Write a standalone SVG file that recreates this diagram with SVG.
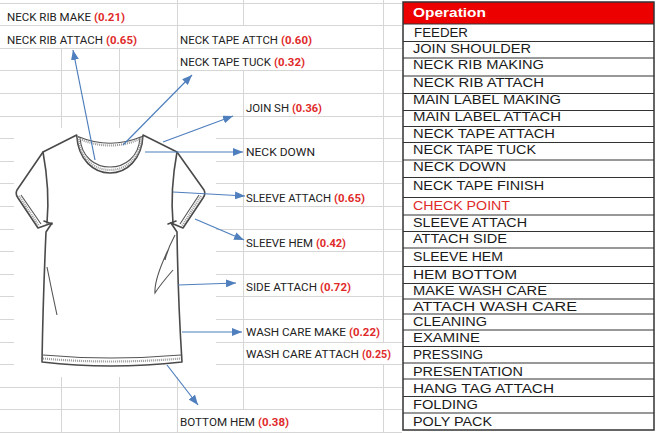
<svg xmlns="http://www.w3.org/2000/svg" width="658" height="433" viewBox="0 0 658 433">
<style>
.g{stroke:#d6d6d6;stroke-width:1;fill:none}
.lbl{font-family:Roboto,"Liberation Sans",Arial,sans-serif;font-size:11px;fill:#222}
.num{font-family:Roboto,"Liberation Sans",Arial,sans-serif;font-size:11px;fill:#e02a2a;font-weight:bold}
.op{font-family:"Liberation Sans",Arial,sans-serif;font-size:12px;fill:#1a1a1a}
.row{stroke:#333;stroke-width:1.2}
.arr{stroke:#4f7fbd;stroke-width:1.2;fill:none;marker-end:url(#ah)}
.sh{fill:none;stroke:#4a4a4a;stroke-width:1.6;stroke-linejoin:round;stroke-linecap:round}
.thin{fill:none;stroke:#555;stroke-width:1.1}
.st{fill:none;stroke:#999;stroke-width:2.2;stroke-dasharray:1 1}
</style>
<defs>
<marker id="ah" viewBox="0 0 10 8" refX="10" refY="4" markerWidth="10" markerHeight="8" markerUnits="userSpaceOnUse" orient="auto">
<path d="M0,0 L10,4 L0,8 Z" fill="#4f7fbd"/>
</marker>
</defs>
<rect width="658" height="433" fill="#fff"/>
<g id="grid">
<path class="g" d="M0,3.5H402M0,25.5H402M0,48.5H402M0,70.5H402M0,93.5H402M0,116.5H402
M0,138.5H14M216,138.5H402M0,161.5H14M216,161.5H402M0,183.5H14M216,183.5H402M0,206.5H14M216,206.5H402
M0,229.5H14M216,229.5H402M0,251.5H14M216,251.5H402M0,274.5H14M216,274.5H402M0,296.5H14M216,296.5H402
M0,319.5H14M216,319.5H402M0,342.5H14M216,342.5H402M0,364.5H14M216,364.5H402
M0,387.5H402M0,409.5H402M0,432.5H402
M61.5,48V128M61.5,377V433M119.5,48V128M119.5,377V433M177.5,0V128M177.5,377V433
M243.5,0V25.6M243.5,70.8V409.8M383.5,0V342M383.5,364.6V433"/>
</g>
<g id="tshirt">
<path d="M76.7,135 L43,152 L17,190 Q15,194 18,198 L38,228 L52,223 L46,232 Q43,300 42,362 Q110,370 182,362 Q178,300 177,232 L171,223 L183,228 L203,198 Q206,194 204,190 L177,152 L143,135 C142,160 126,173 110,173 C94,173 78,160 76.7,135 Z" fill="#fff" class="sh"/>
<path class="thin" d="M80,137 C81,157 95,167 110,167 C125,167 139,157 140,137"/>
<path class="st" d="M78.5,137 C79.5,159 95,170 110,170 C125,170 140.5,159 141.5,137"/>
<path class="thin" d="M78,136.5 Q110,150 142,136.5"/>
<path class="st" d="M80,139 Q110,152 140,139"/>
<path class="sh" d="M43,152 Q50,190 47,223 M177,152 Q170,190 173,223"/>
<path class="thin" d="M21,195 L41,224 M199,195 L180,224"/>
<path class="st" d="M19,196 L39,226 M201,196 L182,226"/>
<path class="sh" d="M44,221 L52,224 M176,221 L168,224"/>
<path class="thin" d="M43,355 Q110,361 181,355"/>
<path class="st" d="M43,358.5 Q110,364.5 181,358.5"/>
<path class="thin" d="M47,267 Q52,292 57,315 M168,250 Q154,280 155,293 Q160,285 173,270 M175,235 Q168,248 165,260"/>
</g>
<g id="connectors">
<line class="arr" x1="95" y1="160" x2="73" y2="50"/>
<line class="arr" x1="123" y1="145" x2="192" y2="75"/>
<line class="arr" x1="163" y1="142" x2="233" y2="116"/>
<line class="arr" x1="145" y1="152" x2="243" y2="152"/>
<line class="arr" x1="173" y1="192" x2="245" y2="196"/>
<line class="arr" x1="195" y1="219" x2="244" y2="240"/>
<line class="arr" x1="178" y1="285" x2="236" y2="283"/>
<line class="arr" x1="182" y1="332" x2="242" y2="332"/>
<line class="arr" x1="167" y1="365" x2="198" y2="405"/>
</g>
<g id="labels">
<text class="lbl" x="7" y="20.5" textLength="84" lengthAdjust="spacingAndGlyphs">NECK RIB MAKE</text>
<text class="num" x="94" y="20.5" textLength="31" lengthAdjust="spacingAndGlyphs">(0.21)</text>
<text class="lbl" x="7" y="43.5" textLength="96" lengthAdjust="spacingAndGlyphs">NECK RIB ATTACH</text>
<text class="num" x="106" y="43.5" textLength="31" lengthAdjust="spacingAndGlyphs">(0.65)</text>
<text class="lbl" x="180" y="43.5" textLength="98" lengthAdjust="spacingAndGlyphs">NECK TAPE ATTCH</text>
<text class="num" x="281" y="43.5" textLength="31" lengthAdjust="spacingAndGlyphs">(0.60)</text>
<text class="lbl" x="180" y="65.5" textLength="91" lengthAdjust="spacingAndGlyphs">NECK TAPE TUCK</text>
<text class="num" x="274" y="65.5" textLength="31" lengthAdjust="spacingAndGlyphs">(0.32)</text>
<text class="lbl" x="246" y="111.5" textLength="43" lengthAdjust="spacingAndGlyphs">JOIN SH</text>
<text class="num" x="292" y="111.5" textLength="30" lengthAdjust="spacingAndGlyphs">(0.36)</text>
<text class="lbl" x="246" y="155.5" textLength="69" lengthAdjust="spacingAndGlyphs">NECK DOWN</text>
<text class="lbl" x="246" y="201.5" textLength="85" lengthAdjust="spacingAndGlyphs">SLEEVE ATTACH</text>
<text class="num" x="334" y="201.5" textLength="31" lengthAdjust="spacingAndGlyphs">(0.65)</text>
<text class="lbl" x="246" y="246.5" textLength="67" lengthAdjust="spacingAndGlyphs">SLEEVE HEM</text>
<text class="num" x="316" y="246.5" textLength="30" lengthAdjust="spacingAndGlyphs">(0.42)</text>
<text class="lbl" x="246" y="291" textLength="71" lengthAdjust="spacingAndGlyphs">SIDE ATTACH</text>
<text class="num" x="320" y="291" textLength="31" lengthAdjust="spacingAndGlyphs">(0.72)</text>
<text class="lbl" x="246" y="336" textLength="100" lengthAdjust="spacingAndGlyphs">WASH CARE MAKE</text>
<text class="num" x="349" y="336" textLength="31" lengthAdjust="spacingAndGlyphs">(0.22)</text>
<text class="lbl" x="246" y="357.5" textLength="113" lengthAdjust="spacingAndGlyphs">WASH CARE ATTACH</text>
<text class="num" x="362" y="357.5" textLength="29" lengthAdjust="spacingAndGlyphs">(0.25)</text>
<text class="lbl" x="180" y="426" textLength="75" lengthAdjust="spacingAndGlyphs">BOTTOM HEM</text>
<text class="num" x="258" y="426" textLength="31" lengthAdjust="spacingAndGlyphs">(0.38)</text>
</g>
<g id="table">
<rect x="403" y="2" width="251" height="22" fill="#ec0000"/>
<rect x="403" y="2" width="251" height="428" fill="none" stroke="#333" stroke-width="1.5"/>
<path class="row" d="M403,24H654M403,41.5H654M403,58H654M403,76H654M403,93.5H654M403,110.5H654M403,126.5H654M403,142.5H654M403,160H654M403,177.5H654M403,197.5H654M403,215H654M403,231.5H654M403,248H654M403,266.5H654M403,283.5H654M403,299H654M403,314H654M403,330H654M403,346.5H654M403,363H654M403,379H654M403,396.5H654M403,413H654"/>
<text class="op" x="413" y="17" style="fill:#fff;font-weight:bold" textLength="73" lengthAdjust="spacingAndGlyphs">Operation</text>
<text class="op" x="414" y="37.3" textLength="54" lengthAdjust="spacingAndGlyphs">FEEDER</text>
<text class="op" x="413" y="53.3" textLength="118" lengthAdjust="spacingAndGlyphs">JOIN SHOULDER</text>
<text class="op" x="413" y="69.3" textLength="131" lengthAdjust="spacingAndGlyphs">NECK RIB MAKING</text>
<text class="op" x="413" y="87.3" textLength="131" lengthAdjust="spacingAndGlyphs">NECK RIB ATTACH</text>
<text class="op" x="413" y="104.3" textLength="148" lengthAdjust="spacingAndGlyphs">MAIN LABEL MAKING</text>
<text class="op" x="413" y="121.3" textLength="148" lengthAdjust="spacingAndGlyphs">MAIN LABEL ATTACH</text>
<text class="op" x="413" y="138.3" textLength="142" lengthAdjust="spacingAndGlyphs">NECK TAPE ATTACH</text>
<text class="op" x="413" y="154.3" textLength="123" lengthAdjust="spacingAndGlyphs">NECK TAPE TUCK</text>
<text class="op" x="413" y="171.3" textLength="93" lengthAdjust="spacingAndGlyphs">NECK DOWN</text>
<text class="op" x="413" y="190.3" textLength="131" lengthAdjust="spacingAndGlyphs">NECK TAPE FINISH</text>
<text class="op" x="413" y="210.3" style="fill:#e02a2a" textLength="97" lengthAdjust="spacingAndGlyphs">CHECK POINT</text>
<text class="op" x="413" y="227.3" textLength="114" lengthAdjust="spacingAndGlyphs">SLEEVE ATTACH</text>
<text class="op" x="413" y="243.3" textLength="94" lengthAdjust="spacingAndGlyphs">ATTACH SIDE</text>
<text class="op" x="413" y="261.3" textLength="90" lengthAdjust="spacingAndGlyphs">SLEEVE HEM</text>
<text class="op" x="413" y="279.3" textLength="104" lengthAdjust="spacingAndGlyphs">HEM BOTTOM</text>
<text class="op" x="413" y="295.3" textLength="134" lengthAdjust="spacingAndGlyphs">MAKE WASH CARE</text>
<text class="op" x="413" y="311.3" textLength="164" lengthAdjust="spacingAndGlyphs">ATTACH WASH CARE</text>
<text class="op" x="413" y="326.3" textLength="74" lengthAdjust="spacingAndGlyphs">CLEANING</text>
<text class="op" x="413" y="342.3" textLength="67" lengthAdjust="spacingAndGlyphs">EXAMINE</text>
<text class="op" x="413" y="359.3" textLength="70" lengthAdjust="spacingAndGlyphs">PRESSING</text>
<text class="op" x="413" y="376.3" textLength="110" lengthAdjust="spacingAndGlyphs">PRESENTATION</text>
<text class="op" x="413" y="393.3" textLength="141" lengthAdjust="spacingAndGlyphs">HANG TAG ATTACH</text>
<text class="op" x="413" y="409.3" textLength="65" lengthAdjust="spacingAndGlyphs">FOLDING</text>
<text class="op" x="413" y="426.3" textLength="79" lengthAdjust="spacingAndGlyphs">POLY PACK</text>
</g>
</svg>
